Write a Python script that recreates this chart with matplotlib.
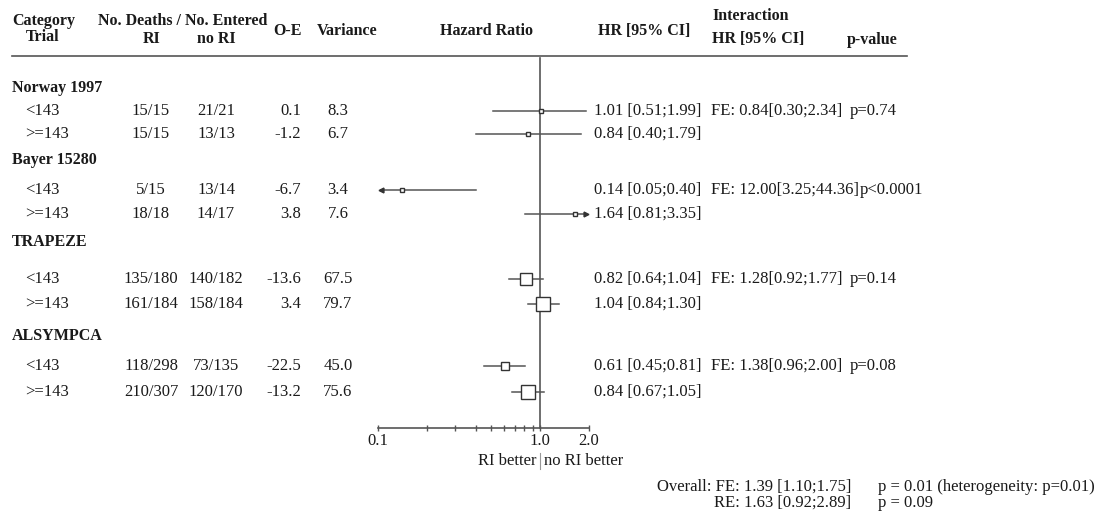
import matplotlib
matplotlib.use('Agg')
import matplotlib.pyplot as plt
import numpy as np

# data
trials = ["Norway 1997", "Bayer 15280", "TRAPEZE", "ALSYMPCA"]
subgroups = ["<143", ">=143"]
deaths_ri = ["15/15", "15/15", "5/15", "18/18", "135/180", "161/184", "118/298", "210/307"]
deaths_nori = ["21/21", "13/13", "13/14", "14/17", "140/182", "158/184", "73/135", "120/170"]
o_e = [0.1, -1.2, -6.7, 3.8, -13.6, 3.4, -22.5, -13.2]
variance = [8.3, 6.7, 3.4, 7.6, 67.5, 79.7, 45.0, 75.6]
hr = [1.01, 0.84, 0.14, 1.64, 0.82, 1.04, 0.61, 0.84]
ci_low = [0.51, 0.40, 0.05, 0.81, 0.64, 0.84, 0.45, 0.67]
ci_high = [1.99, 1.79, 0.40, 3.35, 1.04, 1.30, 0.81, 1.05]
inter_hr = ["0.84[0.30;2.34]", "12.00[3.25;44.36]", "1.28[0.92;1.77]", "1.38[0.96;2.00]"]
inter_p = ["p=0.74", "p<0.0001", "p=0.14", "p=0.08"]
overall_fe = "1.39 [1.10;1.75]"
overall_re = "1.63 [0.92;2.89]"
overall_fe_p = "p = 0.01 (heterogeneity: p=0.01)"
overall_re_p = "p = 0.09"

# layout (pixel rows)
trial_y = [88, 160, 242, 336]
row_y = [111, 134, 190, 214, 279, 304, 366, 392]
xmin, xmax = 0.1, 2.0

plt.rcParams['font.family'] = ['Liberation Serif', 'DejaVu Serif']
fs = 12
txt = '#1a1a1a'
lc = '#555555'

fig = plt.figure(figsize=(11.04, 5.11), dpi=100)
ax = fig.add_axes([0, 0, 1, 1])
ax.set_xlim(0, 1104)
ax.set_ylim(511, 0)
ax.axis('off')
renderer = fig.canvas.get_renderer()

# header
hb = dict(fontsize=11.5, fontweight='bold', color=txt)
ax.text(12, 21, "Category", ha='left', va='center', **hb)
ax.text(43, 37, "Trial", ha='center', va='center', **hb)
ax.text(183, 21, "No. Deaths / No. Entered", ha='center', va='center', **hb)
ax.text(152, 39, "RI", ha='center', va='center', **hb)
ax.text(216, 39, "no RI", ha='center', va='center', **hb)
ax.text(288, 31, "O-E", ha='center', va='center', **hb)
ax.text(347, 31, "Variance", ha='center', va='center', **hb)
ax.text(486, 31, "Hazard Ratio", ha='center', va='center', **hb)
ax.text(644, 31, "HR [95% CI]", ha='center', va='center', **hb)
ax.text(712, 16, "Interaction", ha='left', va='center', **hb)
ax.text(712, 39, "HR [95% CI]", ha='left', va='center', **hb)
ax.text(898, 40, "p-value", ha='right', va='center', **hb)
ax.plot([12, 907], [56, 56], color=lc, lw=1.2)

for i, t in enumerate(trials):
    ax.text(12, trial_y[i], t, ha='left', va='center', **hb)
    fe = ax.text(711, row_y[2 * i], "FE: " + inter_hr[i], ha='left', va='center',
                 fontsize=fs, color=txt)
    # p-values sit right-aligned in their column, unless the FE text runs into it
    fe_right = ax.transData.inverted().transform(
        fe.get_window_extent(renderer).get_points())[1, 0]
    pt = ax.text(897, row_y[2 * i], inter_p[i], ha='right', va='center', fontsize=fs, color=txt)
    p_left = ax.transData.inverted().transform(
        pt.get_window_extent(renderer).get_points())[0, 0]
    if p_left < fe_right + 2:
        pt.set_x(fe_right + 1)
        pt.set_ha('left')

for j in range(len(hr)):
    y = row_y[j]
    ax.text(25, y, subgroups[j % 2], ha='left', va='center', fontsize=fs, color=txt)
    ax.text(151, y, deaths_ri[j], ha='center', va='center', fontsize=fs, color=txt)
    ax.text(216, y, deaths_nori[j], ha='center', va='center', fontsize=fs, color=txt)
    ax.text(301, y, f"{o_e[j]:.1f}", ha='right', va='center', fontsize=fs, color=txt)
    ax.text(338, y, f"{variance[j]:.1f}", ha='center', va='center', fontsize=fs, color=txt)
    ax.text(594, y, f"{hr[j]:.2f} [{ci_low[j]:.2f};{ci_high[j]:.2f}]",
            ha='left', va='center', fontsize=fs, color=txt)

# overall
ax.text(851, 487, "Overall: FE: " + overall_fe, ha='right', va='center', fontsize=fs, color=txt)
ax.text(851, 503, "RE: " + overall_re, ha='right', va='center', fontsize=fs, color=txt)
ax.text(878, 487, overall_fe_p, ha='left', va='center', fontsize=fs, color=txt)
ax.text(878, 503, overall_re_p, ha='left', va='center', fontsize=fs, color=txt)

# forest panel
fa = fig.add_axes([378 / 1104, 0, (589 - 378) / 1104, 1])
fa.patch.set_alpha(0)
fa.set_xscale('log')
fa.set_xlim(xmin, xmax)
fa.set_ylim(511, 0)
for s in ['top', 'right', 'left']:
    fa.spines[s].set_visible(False)
fa.spines['bottom'].set_position(('data', 428))
fa.spines['bottom'].set_color(lc)
fa.spines['bottom'].set_linewidth(1.2)
fa.set_yticks([])
fa.set_xticks([0.1, 1.0, 2.0])
fa.set_xticklabels(["0.1", "1.0", "2.0"], fontsize=fs, color=txt)
fa.set_xticks([0.2, 0.3, 0.4, 0.5, 0.6, 0.7, 0.8, 0.9], minor=True)
fa.xaxis.set_minor_formatter(matplotlib.ticker.NullFormatter())
fa.tick_params(axis='x', which='both', direction='inout', length=5, width=1, color=lc, pad=1)
fa.tick_params(axis='x', which='minor', length=4)

fa.plot([1, 1], [58, 428], color=lc, lw=1.2)
ax.text(536, 461, "RI better", ha='right', va='center', fontsize=fs, color=txt)
ax.text(544, 461, "no RI better", ha='left', va='center', fontsize=fs, color=txt)
ax.plot([540, 540], [453, 469], color='#999999', lw=0.8)

for j in range(len(hr)):
    y = row_y[j]
    lo = max(ci_low[j], xmin * 1.04)
    hi = min(ci_high[j], xmax / 1.04)
    fa.plot([lo, hi], [y, y], color=lc, lw=1.1)
    if ci_low[j] < xmin:
        fa.plot(lo, y, marker='<', ms=3.5, color='#333333')
    if ci_high[j] > xmax:
        fa.plot(hi, y, marker='>', ms=3.5, color='#333333')
    side = max(0.175 * variance[j], 3.5)
    fa.plot(hr[j], y, marker='s', ms=side * 0.72, mfc='white', mec='#333333', mew=1.0)

fig.savefig("out.png", dpi=100)
